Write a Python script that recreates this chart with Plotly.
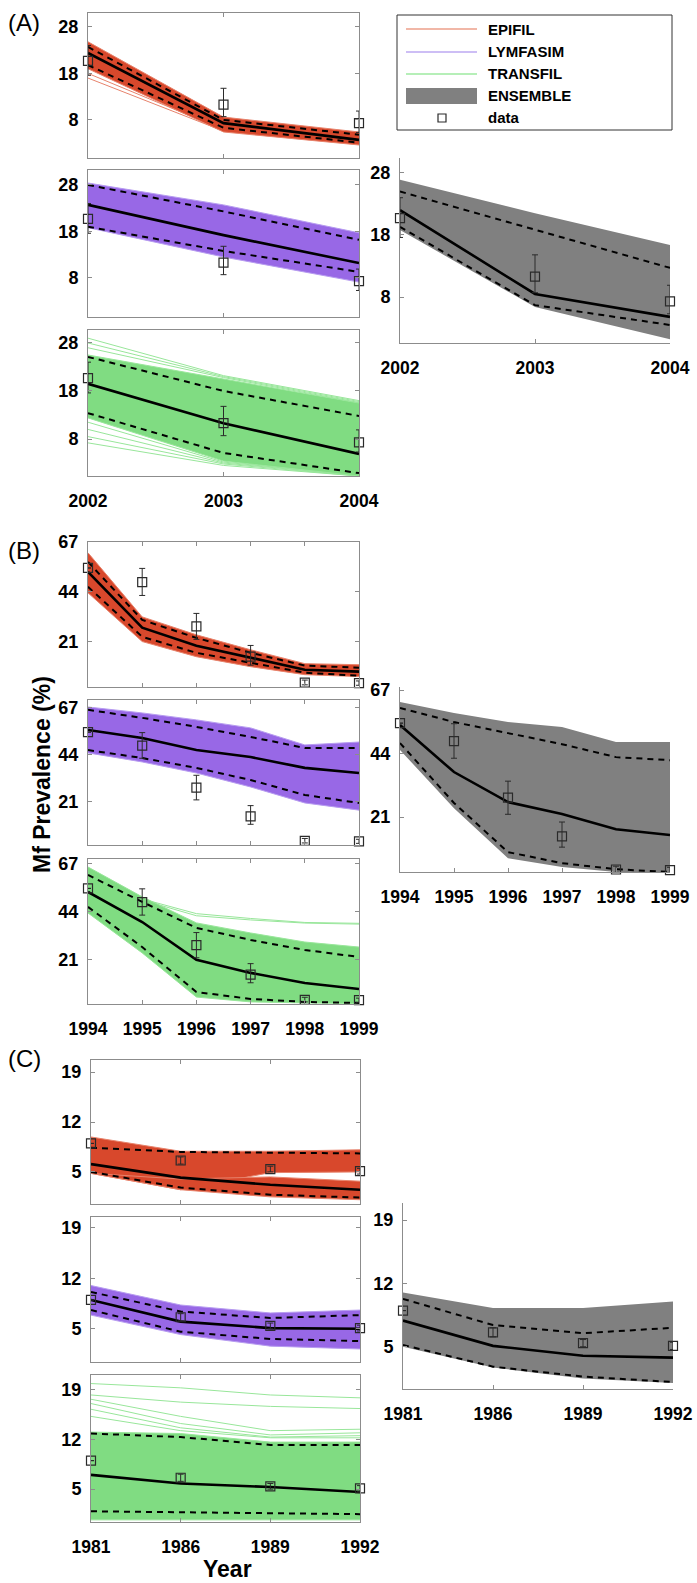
import plotly.graph_objects as go

# ---------------- data ----------------
# Panel (A)
yearsA = [2002, 2003, 2004]
dataA = [20.7, 11.3, 7.3]
dataA_lo = [17.6, 8.7, 5.3]
dataA_hi = [24.0, 14.8, 9.9]

epiA_hi = [24.8, 8.6, 5.4]
epiA_qhi = [23.7, 8.0, 4.8]
epiA_med = [22.4, 7.3, 3.7]
epiA_qlo = [19.8, 6.3, 3.1]
epiA_lo = [19.0, 5.4, 2.6]
epiA_out = [[17.0, 5.6, 2.8], [18.0, 5.9, 3.0]]

lymA_hi = [28.4, 23.7, 17.7]
lymA_qhi = [28.0, 22.3, 16.2]
lymA_med = [23.7, 17.2, 11.2]
lymA_qlo = [19.0, 13.8, 9.3]
lymA_lo = [18.8, 12.5, 7.1]

traA_hi = [25.5, 20.5, 15.5]
traA_qhi = [25.1, 18.0, 12.8]
traA_med = [19.5, 11.3, 4.9]
traA_qlo = [13.4, 5.1, 0.9]
traA_lo = [12.4, 3.4, 0.3]
traA_out = [[29.0, 21.2, 16.0], [28.0, 21.0, 15.8], [27.0, 20.8, 15.6],
            [11.5, 3.2, 0.4], [10.0, 3.0, 0.4], [8.5, 2.8, 0.3], [7.2, 2.5, 0.3]]

ensA_hi = [26.9, 21.5, 16.4]
ensA_qhi = [25.0, 18.8, 12.7]
ensA_med = [22.0, 8.5, 4.8]
ensA_qlo = [19.3, 6.7, 3.5]
ensA_lo = [18.8, 6.4, 1.2]

# Panel (B)
yearsB = [1994, 1995, 1996, 1997, 1998, 1999]
dataB = [55.0, 48.5, 28.0, 14.0, 2.0, 1.8]
dataB_lo = [55.0, 42.3, 22.0, 10.1, 1.0, 0.8]
dataB_hi = [55.0, 54.8, 34.0, 19.2, 3.2, 2.8]

epiB_hi = [62.0, 32.4, 24.1, 17.2, 10.8, 10.3]
epiB_qhi = [57.8, 31.0, 22.7, 15.8, 9.9, 8.9]
epiB_med = [53.2, 27.4, 19.1, 13.5, 8.0, 7.1]
epiB_qlo = [46.3, 23.2, 15.8, 11.2, 6.6, 5.2]
epiB_lo = [43.5, 21.0, 14.0, 9.4, 5.7, 4.8]

lymB_hi = [67.3, 64.4, 61.0, 57.1, 48.8, 50.2]
lymB_qhi = [65.9, 62.0, 57.6, 52.7, 47.3, 47.3]
lymB_med = [56.1, 52.2, 46.3, 42.9, 37.6, 35.1]
lymB_qlo = [46.3, 42.4, 37.6, 31.7, 24.4, 20.5]
lymB_lo = [44.9, 40.5, 35.1, 28.3, 20.5, 17.0]

traB_hi = [65.2, 51.0, 38.6, 33.8, 29.5, 27.1]
traB_qhi = [61.4, 48.6, 36.2, 30.5, 25.7, 22.4]
traB_med = [53.3, 39.0, 21.0, 14.8, 10.0, 7.1]
traB_qlo = [46.2, 27.1, 5.7, 2.4, 1.0, 0.5]
traB_lo = [43.3, 24.3, 3.3, 1.0, 0.5, 0.2]
traB_out = [[62.0, 50.0, 43.0, 40.7, 38.8, 38.4], [61.0, 49.5, 42.0, 40.0, 38.5, 38.0]]

ensB_hi = [62.7, 58.7, 55.4, 53.6, 48.2, 48.2]
ensB_qhi = [60.5, 55.4, 51.4, 47.4, 42.7, 41.6]
ensB_med = [54.3, 37.3, 26.4, 22.1, 16.6, 14.5]
ensB_qlo = [47.8, 26.1, 8.3, 4.3, 2.1, 1.1]
ensB_lo = [45.3, 24.2, 6.1, 2.9, 1.1, 0.7]

# Panel (C)
labelsC = ["1981", "1986", "1989", "1992"]
dataC = [9.0, 6.6, 5.4, 5.1]
dataC_lo = [9.0, 6.1, 5.0, 4.7]
dataC_hi = [9.0, 7.1, 5.8, 5.5]

epiC_hi = [9.9, 7.9, 7.9, 8.1]
epiC_split_hi = [4.8, 2.5, 4.9, 5.0]   # lower edge of the upper group of runs
epiC_split_lo = [4.8, 4.0, 4.3, 3.7]   # upper edge of the lower group of runs
epiC_lo = [4.8, 2.5, 1.5, 1.1]
epiC_qhi = [8.4, 7.8, 7.7, 7.6]
epiC_med = [6.1, 4.2, 3.2, 2.5]
epiC_qlo = [5.0, 2.8, 1.8, 1.4]

lymC_hi = [11.0, 8.3, 7.2, 7.6]
lymC_qhi = [10.1, 7.4, 6.5, 6.9]
lymC_med = [9.0, 6.0, 5.1, 5.0]
lymC_qlo = [7.6, 4.6, 3.6, 3.3]
lymC_lo = [6.9, 4.2, 2.6, 2.2]

traC_hi = [13.0, 12.8, 11.6, 11.6]
traC_qhi = [12.8, 12.3, 11.2, 11.2]
traC_med = [7.0, 5.8, 5.3, 4.6]
traC_qlo = [1.9, 1.8, 1.6, 1.5]
traC_lo = [0.7, 0.7, 0.7, 0.7]
traC_out = [[19.8, 19.2, 18.2, 17.8], [18.2, 17.2, 16.6, 16.3], [17.6, 15.2, 13.2, 13.4],
            [17.0, 14.2, 12.6, 12.9], [16.2, 13.6, 12.3, 12.5], [15.2, 13.2, 12.2, 12.2]]

ensC_hi = [11.0, 9.3, 9.3, 10.0]
ensC_qhi = [10.3, 7.4, 6.5, 7.1]
ensC_med = [7.9, 5.1, 4.0, 3.8]
ensC_qlo = [5.2, 2.8, 1.7, 1.1]
ensC_lo = [5.0, 2.7, 1.5, 1.0]

ticksA = [8, 18, 28]
ticksB = [21, 44, 67]
ticksC = [5, 12, 19]

legend_names = ["EPIFIL", "LYMFASIM", "TRANSFIL", "ENSEMBLE", "data"]

# ---------------- styling ----------------
W, H = 697, 1583
FONT = "Liberation Sans, Arial, Helvetica, sans-serif"
EPI_FILL, EPI_EDGE = "#D8482C", "#E7836C"
LYM_FILL, LYM_EDGE = "#9868E6", "#B79CF0"
TRA_FILL, TRA_EDGE = "#80DC82", "#98E69A"
ENS_FILL = "#808080"
AX_COL = "#8c8c8c"

fig = go.Figure()


def ax_ids(i):
    return ("x" if i == 1 else f"x{i}"), ("y" if i == 1 else f"y{i}")


def add_model(i, x, bands, qlo, med, qhi, fill, edge, outliers=()):
    xa, ya = ax_ids(i)
    for o in outliers:
        fig.add_trace(go.Scatter(x=x, y=o, mode="lines", xaxis=xa, yaxis=ya,
                                 line=dict(color=edge, width=1), showlegend=False,
                                 hoverinfo="skip"))
    for lo, hi in bands:
        fig.add_trace(go.Scatter(x=x, y=lo, mode="lines", xaxis=xa, yaxis=ya,
                                 line=dict(color=edge, width=1 if edge else 0),
                                 showlegend=False, hoverinfo="skip"))
        fig.add_trace(go.Scatter(x=x, y=hi, mode="lines", xaxis=xa, yaxis=ya,
                                 fill="tonexty", fillcolor=fill,
                                 line=dict(color=edge, width=1 if edge else 0),
                                 showlegend=False, hoverinfo="skip"))
    for q in (qlo, qhi):
        fig.add_trace(go.Scatter(x=x, y=q, mode="lines", xaxis=xa, yaxis=ya,
                                 line=dict(color="black", width=2, dash="6px,5px"),
                                 showlegend=False, hoverinfo="skip"))
    fig.add_trace(go.Scatter(x=x, y=med, mode="lines", xaxis=xa, yaxis=ya,
                             line=dict(color="black", width=2.6),
                             showlegend=False, hoverinfo="skip"))


def add_data(i, x, val, lo, hi):
    xa, ya = ax_ids(i)
    fig.add_trace(go.Scatter(
        x=x, y=val, mode="markers", xaxis=xa, yaxis=ya, cliponaxis=False,
        marker=dict(symbol="square-open", size=9, color="#2a2a2a", line=dict(width=1.2)),
        error_y=dict(type="data", symmetric=False,
                     array=[h - v for h, v in zip(hi, val)],
                     arrayminus=[v - l for l, v in zip(lo, val)],
                     color="#2a2a2a", thickness=1, width=3),
        showlegend=False, hoverinfo="skip"))


# subplot geometry in pixels
LX = (88, 359)
LXC = (91, 360)
RX = (400, 670)
RXC = (403, 673)
subplots = {
    1: (LX, 13, 158, [-0.2, 31], yearsA, ticksA, False, True),
    2: (LX, 170, 317, [-0.4, 31.2], yearsA, ticksA, False, True),
    3: (LX, 330, 476, [0.3, 30.7], yearsA, ticksA, True, True),
    4: (RX, 158, 343, [0.6, 30.4], yearsA, ticksA, True, False),
    5: (LX, 542, 687, [0, 67], yearsB, ticksB, False, True),
    6: (LX, 700, 845, [0, 70.7], yearsB, ticksB, False, True),
    7: (LX, 859, 1004, [0, 69], yearsB, ticksB, True, True),
    8: (RX, 687, 872, [1.1, 68.1], yearsB, ticksB, True, False),
    9: (LXC, 1060, 1204, [0.5, 20.7], labelsC, ticksC, False, True),
    10: (LXC, 1217, 1362, [0.4, 20.5], labelsC, ticksC, False, True),
    11: (LXC, 1375, 1522, [0.4, 21.0], labelsC, ticksC, True, True),
    12: (RXC, 1203, 1389, [0.33, 20.9], labelsC, ticksC, True, False),
}

tickfont = dict(family=FONT, size=18, color="black", weight="bold")
xtickfont = dict(family=FONT, size=17.5, color="black", weight="bold")
for i, (xd, yt, yb, yr, xv, yticks, showx, boxed) in subplots.items():
    xa, ya = ax_ids(i)
    xkey = "xaxis" if i == 1 else f"xaxis{i}"
    ykey = "yaxis" if i == 1 else f"yaxis{i}"
    is_cat = isinstance(xv[0], str)
    xaxis = dict(domain=[xd[0] / W, xd[1] / W], anchor=ya, automargin=False,
                 showline=True, linecolor=AX_COL, linewidth=1,
                 mirror="ticks" if boxed else False,
                 ticks="inside", ticklen=4, tickcolor=AX_COL,
                 showgrid=False, zeroline=False,
                 showticklabels=showx, tickfont=xtickfont, ticklabelstandoff=9)
    if is_cat:
        xaxis.update(type="category", range=[0, len(xv) - 1], categoryorder="array",
                     categoryarray=xv)
    else:
        xaxis.update(range=[xv[0], xv[-1]], tickvals=xv, ticktext=[str(v) for v in xv])
    yaxis = dict(domain=[1 - yb / H, 1 - yt / H], anchor=xa, range=yr, automargin=False,
                 showline=True, linecolor=AX_COL, linewidth=1,
                 mirror="ticks" if boxed else False,
                 ticks="inside", ticklen=4, tickcolor=AX_COL,
                 showgrid=False, zeroline=False, tickvals=yticks,
                 tickfont=tickfont, ticklabelstandoff=5)
    fig.update_layout({xkey: xaxis, ykey: yaxis})

# ---- panel A ----
add_model(1, yearsA, [(epiA_lo, epiA_hi)], epiA_qlo, epiA_med, epiA_qhi, EPI_FILL, EPI_EDGE, epiA_out)
add_data(1, yearsA, dataA, dataA_lo, dataA_hi)
add_model(2, yearsA, [(lymA_lo, lymA_hi)], lymA_qlo, lymA_med, lymA_qhi, LYM_FILL, LYM_EDGE)
add_data(2, yearsA, dataA, dataA_lo, dataA_hi)
add_model(3, yearsA, [(traA_lo, traA_hi)], traA_qlo, traA_med, traA_qhi, TRA_FILL, TRA_EDGE, traA_out)
add_data(3, yearsA, dataA, dataA_lo, dataA_hi)
add_model(4, yearsA, [(ensA_lo, ensA_hi)], ensA_qlo, ensA_med, ensA_qhi, ENS_FILL, None)
add_data(4, yearsA, dataA, dataA_lo, dataA_hi)

# ---- panel B ----
add_model(5, yearsB, [(epiB_lo, epiB_hi)], epiB_qlo, epiB_med, epiB_qhi, EPI_FILL, EPI_EDGE)
add_data(5, yearsB, dataB, dataB_lo, dataB_hi)
add_model(6, yearsB, [(lymB_lo, lymB_hi)], lymB_qlo, lymB_med, lymB_qhi, LYM_FILL, LYM_EDGE)
add_data(6, yearsB, dataB, dataB_lo, dataB_hi)
add_model(7, yearsB, [(traB_lo, traB_hi)], traB_qlo, traB_med, traB_qhi, TRA_FILL, TRA_EDGE, traB_out)
add_data(7, yearsB, dataB, dataB_lo, dataB_hi)
add_model(8, yearsB, [(ensB_lo, ensB_hi)], ensB_qlo, ensB_med, ensB_qhi, ENS_FILL, None)
add_data(8, yearsB, dataB, dataB_lo, dataB_hi)

# ---- panel C ----
add_model(9, labelsC, [(epiC_split_hi, epiC_hi), (epiC_lo, epiC_split_lo)],
          epiC_qlo, epiC_med, epiC_qhi, EPI_FILL, EPI_EDGE)
add_data(9, labelsC, dataC, dataC_lo, dataC_hi)
add_model(10, labelsC, [(lymC_lo, lymC_hi)], lymC_qlo, lymC_med, lymC_qhi, LYM_FILL, LYM_EDGE)
add_data(10, labelsC, dataC, dataC_lo, dataC_hi)
add_model(11, labelsC, [(traC_lo, traC_hi)], traC_qlo, traC_med, traC_qhi, TRA_FILL, TRA_EDGE, traC_out)
add_data(11, labelsC, dataC, dataC_lo, dataC_hi)
add_model(12, labelsC, [(ensC_lo, ensC_hi)], ensC_qlo, ensC_med, ensC_qhi, ENS_FILL, None)
add_data(12, labelsC, dataC, dataC_lo, dataC_hi)

# ---------------- legend (drawn as a key box) ----------------
def px(x):
    return x / W


def py(y):
    return 1 - y / H


shapes = [dict(type="rect", xref="paper", yref="paper", x0=px(397), x1=px(672),
               y0=py(130), y1=py(15), line=dict(color="#333333", width=1))]
legend_rows = [29, 52, 74, 96, 118]
legend_line_cols = ["#EC9F8A", "#BCA8F2", "#9EEAA0"]
for r, c in zip(legend_rows[:3], legend_line_cols):
    shapes.append(dict(type="line", xref="paper", yref="paper", x0=px(406), x1=px(477),
                       y0=py(r), y1=py(r), line=dict(color=c, width=1.5)))
shapes.append(dict(type="rect", xref="paper", yref="paper", x0=px(406), x1=px(477),
                   y0=py(legend_rows[3] + 8), y1=py(legend_rows[3] - 8),
                   fillcolor=ENS_FILL, line=dict(width=0)))
shapes.append(dict(type="rect", xref="paper", yref="paper", x0=px(438), x1=px(446),
                   y0=py(legend_rows[4] + 4), y1=py(legend_rows[4] - 4),
                   line=dict(color="#2a2a2a", width=1.2)))

annotations = []
for name, r in zip(legend_names, legend_rows):
    annotations.append(dict(text=name, xref="paper", yref="paper", x=px(486), y=py(r),
                            xanchor="left", yanchor="middle", showarrow=False,
                            font=dict(family=FONT, size=15, color="black", weight="bold")))

for lab, yy in [("(A)", 23), ("(B)", 550), ("(C)", 1058)]:
    annotations.append(dict(text=lab, xref="paper", yref="paper", x=px(24), y=py(yy),
                            xanchor="center", yanchor="middle", showarrow=False,
                            font=dict(family=FONT, size=24, color="black")))

annotations.append(dict(text="Mf Prevalence (%)", xref="paper", yref="paper",
                        x=px(42), y=py(775), xanchor="center", yanchor="middle",
                        textangle=-90, showarrow=False,
                        font=dict(family=FONT, size=23, color="black", weight="bold")))
annotations.append(dict(text="Year", xref="paper", yref="paper",
                        x=px(227), y=py(1569), xanchor="center", yanchor="middle",
                        showarrow=False,
                        font=dict(family=FONT, size=23, color="black", weight="bold")))

fig.update_layout(width=W, height=H,
                  margin=dict(l=0, r=0, t=0, b=0, pad=0, autoexpand=False),
                  paper_bgcolor="white", plot_bgcolor="white",
                  showlegend=False, shapes=shapes, annotations=annotations,
                  font=dict(family=FONT))

# remove the page's default body margin so the figure fills the window exactly
fig.write_html("out.html",
               config={"displayModeBar": False, "staticPlot": True},
               post_script="document.body.style.margin='0';"
                           "document.body.style.overflow='hidden';")
